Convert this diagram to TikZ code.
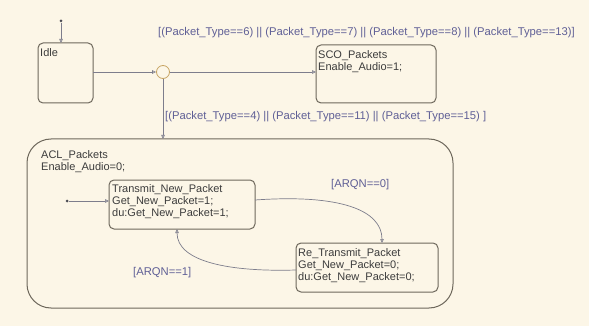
\documentclass[tikz,border=0pt]{standalone}
\usepackage{fontspec}
\setmainfont{Liberation Sans}
\usetikzlibrary{arrows.meta}
\definecolor{bg}{RGB}{252,246,231}
\definecolor{stline}{RGB}{110,104,92}
\definecolor{trline}{RGB}{125,125,140}
\definecolor{lbl}{RGB}{95,95,150}
\definecolor{sttext}{RGB}{60,60,60}
\definecolor{junc}{RGB}{200,165,100}
\tikzset{
  statebox/.style={draw=stline, line width=1pt, rounded corners=5pt, fill=bg},
  sttxt/.style={anchor=north west, inner sep=0pt, align=left, text=sttext, font=\fontsize{11}{12}\selectfont},
  lbltxt/.style={inner sep=0pt, text=lbl, font=\fontsize{11.25}{12}\selectfont},
  trans/.style={draw=trline, line width=0.7pt, -{Triangle[open, length=4pt, width=3.5pt]}},
  initdot/.style={circle, fill=trline!60!black, inner sep=0pt, minimum size=3pt},
}
\begin{document}
\begin{tikzpicture}[x=1pt, y=-1pt]
\fill[bg] (0,0) rectangle (589,326);
\useasboundingbox (0,0) rectangle (589,326);
% Idle
\draw[statebox] (38,43) rectangle (93,103);
\coordinate (idleN) at (61,43);
\coordinate (idleE) at (93,72);
\node[sttxt] (idletxt) at (40,48) {Idle};
\node[initdot] (i0) at (61,21) {};
\draw[trans] (i0) -- (idleN);
% junction
\node[circle, draw=junc, line width=0.8pt, fill=bg, minimum size=13pt, inner sep=0pt] (j) at (163,72) {};
% SCO
\draw[statebox] (316,45) rectangle (436,103);
\coordinate (scoW) at (316,72);
\node[sttxt] (scotxt) at (318,50) {SCO\_Packets\\Enable\_Audio=1;};
% ACL
\draw[statebox, rounded corners=24pt] (27,139) rectangle (453,308);
\coordinate (aclN) at (163,139);
\node[sttxt] (acltxt) at (41,150) {ACL\_Packets\\Enable\_Audio=0;};
% Transmit
\draw[statebox] (109,180) rectangle (255,229);
\coordinate (txW) at (109,201);
\coordinate (txE) at (255,200);
\coordinate (txS) at (177,229);
\node[sttxt] (txtxt) at (112,184) {Transmit\_New\_Packet\\Get\_New\_Packet=1;\\du:Get\_New\_Packet=1;};
% Re_Transmit
\draw[statebox] (296,243) rectangle (438,292);
\coordinate (rtN) at (382,243);
\coordinate (rtW) at (296,270);
\node[sttxt] (rttxt) at (298,248) {Re\_Transmit\_Packet\\Get\_New\_Packet=0;\\du:Get\_New\_Packet=0;};
% transitions
\draw[trans] (idleE) -- (j);
\draw[trans] (j) -- (scoW);
\draw[trans] (j) -- (aclN);
\node[initdot] (i1) at (67,201) {};
\draw[trans] (i1) -- (txW);
\draw[trans] (txE) .. controls (340,194) and (382,210) .. (rtN);
\draw[trans] (rtW) .. controls (230,272) and (177,262) .. (txS);
% labels
\node[lbltxt, anchor=west] (l1) at (158,33) {[(Packet\_Type==6) || (Packet\_Type==7) || (Packet\_Type==8) || (Packet\_Type==13)]};
\node[lbltxt, anchor=west] (l2) at (165,117) {[(Packet\_Type==4) || (Packet\_Type==11) || (Packet\_Type==15) ]};
\node[lbltxt, anchor=west] (l3) at (331,185) {[ARQN==0]};
\node[lbltxt, anchor=west] (l4) at (133,273) {[ARQN==1]};
\end{tikzpicture}
\end{document}
